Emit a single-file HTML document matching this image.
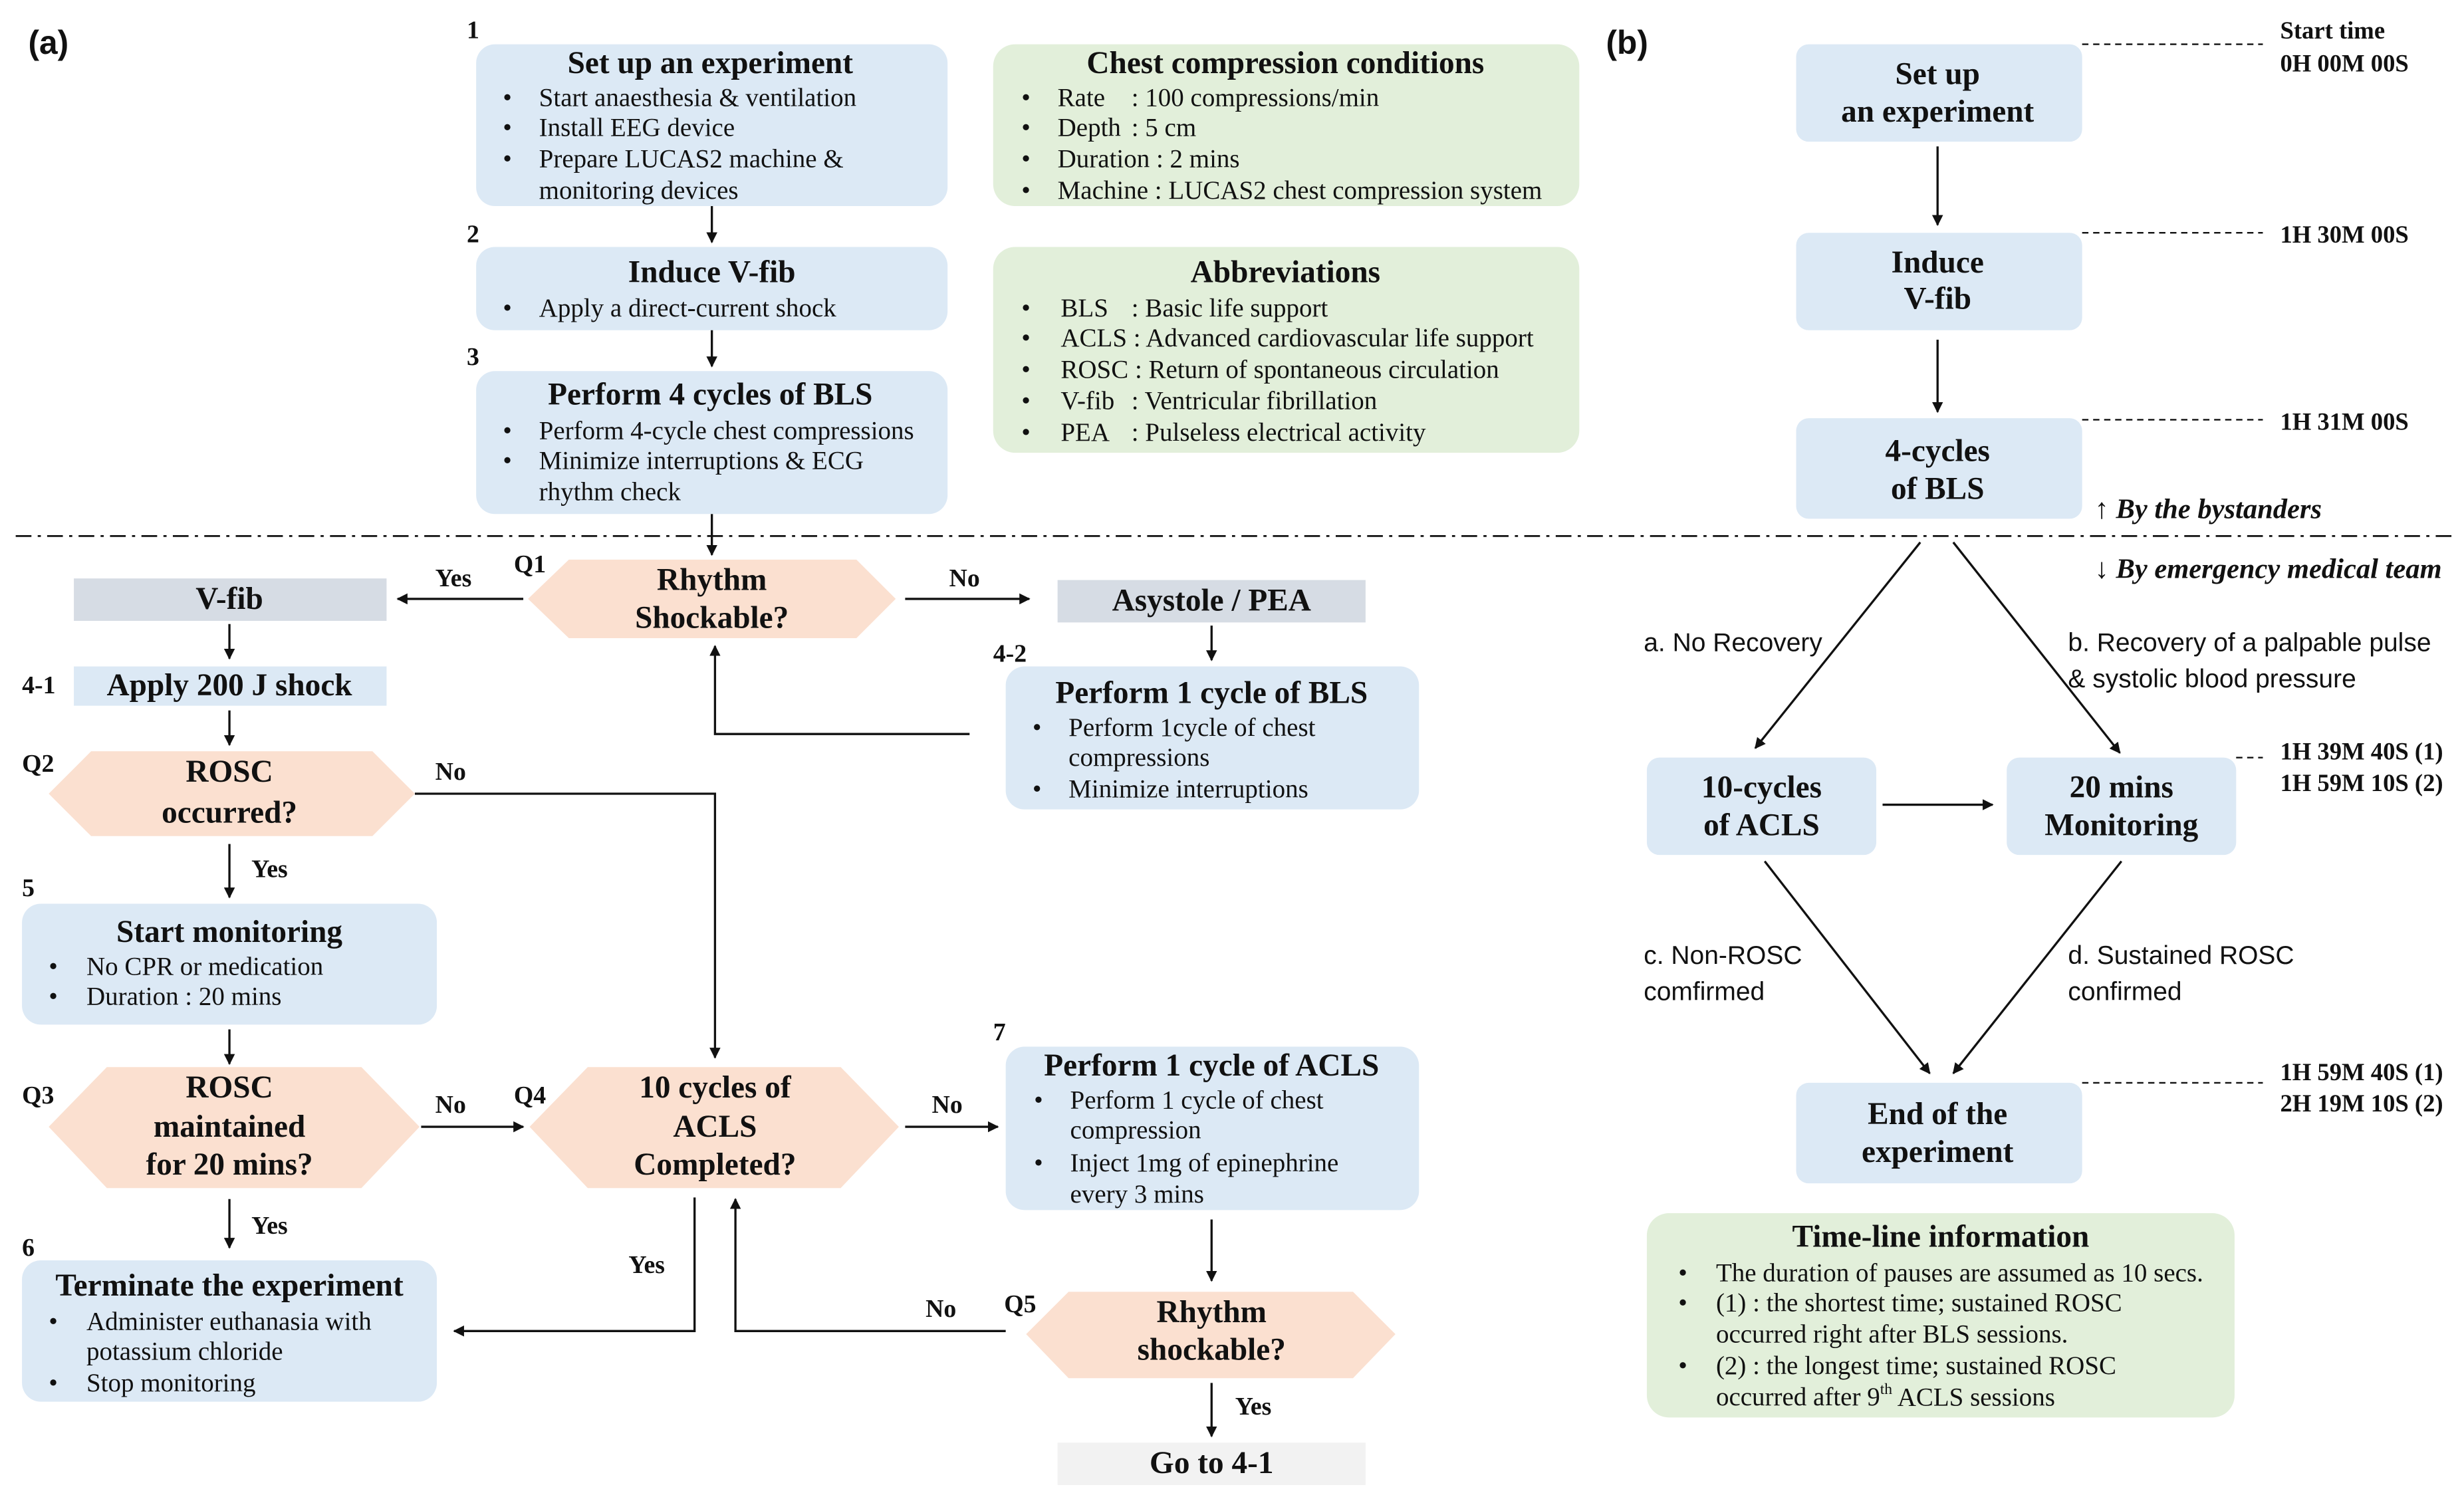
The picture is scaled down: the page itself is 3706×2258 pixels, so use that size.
<!DOCTYPE html>
<html><head><meta charset="utf-8">
<style>
html,body{margin:0;padding:0;background:#fff;}
svg{display:block;}
text{font-family:"Liberation Serif",serif;fill:#111;}
.t{font-weight:bold;font-size:20px;text-anchor:middle;dominant-baseline:central;}
.b{font-size:16.5px;dominant-baseline:central;}
.n{font-size:16px;font-weight:bold;dominant-baseline:central;}
.s{font-family:"Liberation Sans",sans-serif;font-size:16.5px;dominant-baseline:central;}
.tm{font-weight:bold;font-size:15.5px;dominant-baseline:central;}
.blue{fill:#dce9f5;}
.green{fill:#e2efda;}
.peach{fill:#fbe0d0;}
.gray{fill:#d6dce4;}
.ln{stroke:#111;stroke-width:1.4;fill:none;}
</style></head>
<body>
<svg width="3706" height="2258" viewBox="0 0 1568 955" xmlns="http://www.w3.org/2000/svg">
<defs>
<marker id="a" viewBox="0 0 10 10" refX="9" refY="5" markerWidth="7" markerHeight="7" orient="auto-start-reverse" markerUnits="userSpaceOnUse">
<path d="M0,0 L10,5 L0,10 z" fill="#111"/></marker>
</defs>
<rect width="1568" height="955" fill="#fff"/>

<text x="18" y="27" style="font-family:'Liberation Sans',sans-serif;font-size:21px;font-weight:bold;dominant-baseline:central">(a)</text>
<text x="1022" y="27" style="font-family:'Liberation Sans',sans-serif;font-size:21px;font-weight:bold;dominant-baseline:central">(b)</text>

<!-- Box 1 -->
<text class="n" x="297" y="19">1</text>
<rect class="blue" x="303" y="28" width="300" height="103" rx="12"/>
<text class="t" x="452" y="40">Set up an experiment</text>
<g class="b">
<text x="320" y="62">•</text><text x="343" y="62">Start anaesthesia &amp; ventilation</text>
<text x="320" y="81">•</text><text x="343" y="81">Install EEG device</text>
<text x="320" y="101">•</text><text x="343" y="101">Prepare LUCAS2 machine &amp;</text>
<text x="343" y="121">monitoring devices</text>
</g>
<line class="ln" x1="453" y1="131" x2="453" y2="154" marker-end="url(#a)"/>

<!-- Box 2 -->
<text class="n" x="297" y="149">2</text>
<rect class="blue" x="303" y="157" width="300" height="53" rx="12"/>
<text class="t" x="453" y="173">Induce V-fib</text>
<text class="b" x="320" y="196">•</text><text class="b" x="343" y="196">Apply a direct-current shock</text>
<line class="ln" x1="453" y1="210" x2="453" y2="233" marker-end="url(#a)"/>

<!-- Box 3 -->
<text class="n" x="297" y="227">3</text>
<rect class="blue" x="303" y="236" width="300" height="91" rx="12"/>
<text class="t" x="452" y="251">Perform 4 cycles of BLS</text>
<g class="b">
<text x="320" y="274">•</text><text x="343" y="274">Perform 4-cycle chest compressions</text>
<text x="320" y="293">•</text><text x="343" y="293">Minimize interruptions &amp; ECG</text>
<text x="343" y="313">rhythm check</text>
</g>

<!-- Green boxes -->
<rect class="green" x="632" y="28" width="373" height="103" rx="14"/>
<text class="t" x="818" y="40">Chest compression conditions</text>
<g class="b">
<text x="650" y="62">•</text><text x="673" y="62">Rate</text><text x="720" y="62">: 100 compressions/min</text>
<text x="650" y="81">•</text><text x="673" y="81">Depth</text><text x="720" y="81">: 5 cm</text>
<text x="650" y="101">•</text><text x="673" y="101">Duration : 2 mins</text>
<text x="650" y="121">•</text><text x="673" y="121">Machine : LUCAS2 chest compression system</text>
</g>
<rect class="green" x="632" y="157" width="373" height="131" rx="14"/>
<text class="t" x="818" y="173">Abbreviations</text>
<g class="b">
<text x="650" y="196">•</text><text x="675" y="196">BLS</text><text x="720" y="196">: Basic life support</text>
<text x="650" y="215">•</text><text x="675" y="215">ACLS : Advanced cardiovascular life support</text>
<text x="650" y="235">•</text><text x="675" y="235">ROSC : Return of spontaneous circulation</text>
<text x="650" y="255">•</text><text x="675" y="255">V-fib</text><text x="720" y="255">: Ventricular fibrillation</text>
<text x="650" y="275">•</text><text x="675" y="275">PEA</text><text x="720" y="275">: Pulseless electrical activity</text>
</g>

<!-- divider -->
<line x1="10" y1="341" x2="1562" y2="341" stroke="#111" stroke-width="1.2" stroke-dasharray="10,4,2,4"/>

<line class="ln" x1="453" y1="327" x2="453" y2="353" marker-end="url(#a)"/>

<!-- Q1 -->
<text class="n" x="327" y="359">Q1</text>
<polygon class="peach" points="336,381 362,356 545,356 570,381 545,406 362,406"/>
<text class="t" x="453" y="369">Rhythm</text>
<text class="t" x="453" y="393">Shockable?</text>
<line class="ln" x1="333" y1="381" x2="253" y2="381" marker-end="url(#a)"/>
<text class="n" x="277" y="368">Yes</text>
<line class="ln" x1="576" y1="381" x2="655" y2="381" marker-end="url(#a)"/>
<text class="n" x="604" y="368">No</text>

<rect class="gray" x="47" y="368" width="199" height="27"/>
<text class="t" x="146" y="381">V-fib</text>
<rect class="gray" x="673" y="369" width="196" height="27"/>
<text class="t" x="771" y="382">Asystole / PEA</text>

<line class="ln" x1="146" y1="397" x2="146" y2="419" marker-end="url(#a)"/>
<text class="n" x="14" y="436">4-1</text>
<rect class="blue" x="47" y="424" width="199" height="25"/>
<text class="t" x="146" y="436">Apply 200 J shock</text>

<line class="ln" x1="771" y1="398" x2="771" y2="420" marker-end="url(#a)"/>
<text class="n" x="632" y="416">4-2</text>
<rect class="blue" x="640" y="424" width="263" height="91" rx="12"/>
<text class="t" x="771" y="441">Perform 1 cycle of BLS</text>
<g class="b">
<text x="657" y="463">•</text><text x="680" y="463">Perform 1cycle of chest</text>
<text x="680" y="482">compressions</text>
<text x="657" y="502">•</text><text x="680" y="502">Minimize interruptions</text>
</g>
<polyline class="ln" points="617,467 455,467 455,411" marker-end="url(#a)"/>

<!-- Q2 -->
<line class="ln" x1="146" y1="452" x2="146" y2="474" marker-end="url(#a)"/>
<text class="n" x="14" y="486">Q2</text>
<polygon class="peach" points="31,505 58,478 237,478 264,505 237,532 58,532"/>
<text class="t" x="146" y="491">ROSC</text>
<text class="t" x="146" y="517">occurred?</text>
<polyline class="ln" points="264,505 455,505 455,673" marker-end="url(#a)"/>
<text class="n" x="277" y="491">No</text>
<line class="ln" x1="146" y1="537" x2="146" y2="571" marker-end="url(#a)"/>
<text class="n" x="160" y="553">Yes</text>

<!-- Box 5 -->
<text class="n" x="14" y="565">5</text>
<rect class="blue" x="14" y="575" width="264" height="77" rx="12"/>
<text class="t" x="146" y="593">Start monitoring</text>
<g class="b">
<text x="31" y="615">•</text><text x="55" y="615">No CPR or medication</text>
<text x="31" y="634">•</text><text x="55" y="634">Duration : 20 mins</text>
</g>
<line class="ln" x1="146" y1="655" x2="146" y2="677" marker-end="url(#a)"/>

<!-- Q3 -->
<text class="n" x="14" y="697">Q3</text>
<polygon class="peach" points="31,717 68,679 230,679 267,717 230,756 68,756"/>
<text class="t" x="146" y="692">ROSC</text>
<text class="t" x="146" y="717">maintained</text>
<text class="t" x="146" y="741">for 20 mins?</text>
<line class="ln" x1="268" y1="717" x2="333" y2="717" marker-end="url(#a)"/>
<text class="n" x="277" y="703">No</text>
<line class="ln" x1="146" y1="763" x2="146" y2="794" marker-end="url(#a)"/>
<text class="n" x="160" y="780">Yes</text>

<!-- Q4 -->
<text class="n" x="327" y="697">Q4</text>
<polygon class="peach" points="337,717 374,679 535,679 572,717 535,756 374,756"/>
<text class="t" x="455" y="692">10 cycles of</text>
<text class="t" x="455" y="717">ACLS</text>
<text class="t" x="455" y="741">Completed?</text>
<line class="ln" x1="576" y1="717" x2="635" y2="717" marker-end="url(#a)"/>
<text class="n" x="593" y="703">No</text>
<polyline class="ln" points="442,762 442,847 289,847" marker-end="url(#a)"/>
<text class="n" x="400" y="805">Yes</text>

<!-- Box 7 -->
<text class="n" x="632" y="657">7</text>
<rect class="blue" x="640" y="666" width="263" height="104" rx="12"/>
<text class="t" x="771" y="678">Perform 1 cycle of ACLS</text>
<g class="b">
<text x="658" y="700">•</text><text x="681" y="700">Perform 1 cycle of chest</text>
<text x="681" y="719">compression</text>
<text x="658" y="740">•</text><text x="681" y="740">Inject 1mg of epinephrine</text>
<text x="681" y="760">every 3 mins</text>
</g>
<line class="ln" x1="771" y1="776" x2="771" y2="815" marker-end="url(#a)"/>

<!-- Q5 -->
<text class="n" x="639" y="830">Q5</text>
<polygon class="peach" points="653,849 680,822 861,822 888,849 861,877 680,877"/>
<text class="t" x="771" y="835">Rhythm</text>
<text class="t" x="771" y="859">shockable?</text>
<polyline class="ln" points="640,847 468,847 468,763" marker-end="url(#a)"/>
<text class="n" x="589" y="833">No</text>
<line class="ln" x1="771" y1="880" x2="771" y2="914" marker-end="url(#a)"/>
<text class="n" x="786" y="895">Yes</text>
<rect x="673" y="918" width="196" height="27" fill="#f2f2f2"/>
<text class="t" x="771" y="931">Go to 4-1</text>

<!-- Box 6 -->
<text class="n" x="14" y="794">6</text>
<rect class="blue" x="14" y="802" width="264" height="90" rx="12"/>
<text class="t" x="146" y="818">Terminate the experiment</text>
<g class="b">
<text x="31" y="841">•</text><text x="55" y="841">Administer euthanasia with</text>
<text x="55" y="860">potassium chloride</text>
<text x="31" y="880">•</text><text x="55" y="880">Stop monitoring</text>
</g>

<!-- (b) -->
<rect class="blue" x="1143" y="28" width="182" height="62" rx="8"/>
<text class="t" x="1233" y="47">Set up</text>
<text class="t" x="1233" y="71">an experiment</text>
<line class="ln" x1="1233" y1="93" x2="1233" y2="143" marker-end="url(#a)"/>
<rect class="blue" x="1143" y="148" width="182" height="62" rx="8"/>
<text class="t" x="1233" y="167">Induce</text>
<text class="t" x="1233" y="190">V-fib</text>
<line class="ln" x1="1233" y1="216" x2="1233" y2="262" marker-end="url(#a)"/>
<rect class="blue" x="1143" y="266" width="182" height="64" rx="8"/>
<text class="t" x="1233" y="287">4-cycles</text>
<text class="t" x="1233" y="311">of BLS</text>

<g stroke="#111" stroke-width="1" stroke-dasharray="4,3">
<line x1="1325" y1="28" x2="1440" y2="28"/>
<line x1="1325" y1="148" x2="1440" y2="148"/>
<line x1="1325" y1="267" x2="1440" y2="267"/>
<line x1="1423" y1="482" x2="1440" y2="482"/>
<line x1="1325" y1="689" x2="1440" y2="689"/>
</g>
<g class="tm">
<text x="1451" y="19">Start time</text>
<text x="1451" y="40">0H 00M 00S</text>
<text x="1451" y="149">1H 30M 00S</text>
<text x="1451" y="268">1H 31M 00S</text>
<text x="1451" y="478">1H 39M 40S (1)</text>
<text x="1451" y="498">1H 59M 10S (2)</text>
<text x="1451" y="682">1H 59M 40S (1)</text>
<text x="1451" y="702">2H 19M 10S (2)</text>
</g>
<text x="1333" y="324" style="font-weight:bold;font-style:italic;font-size:18px;dominant-baseline:central">↑ By the bystanders</text>
<text x="1333" y="362" style="font-weight:bold;font-style:italic;font-size:18px;dominant-baseline:central">↓ By emergency medical team</text>

<line class="ln" x1="1222" y1="345" x2="1117" y2="476" marker-end="url(#a)"/>
<line class="ln" x1="1243" y1="345" x2="1349" y2="479" marker-end="url(#a)"/>
<text class="s" x="1046" y="409">a. No Recovery</text>
<text class="s" x="1316" y="409">b. Recovery of a palpable pulse</text>
<text class="s" x="1316" y="432">&amp; systolic blood pressure</text>

<rect class="blue" x="1048" y="482" width="146" height="62" rx="8"/>
<text class="t" x="1121" y="501">10-cycles</text>
<text class="t" x="1121" y="525">of ACLS</text>
<rect class="blue" x="1277" y="482" width="146" height="62" rx="8"/>
<text class="t" x="1350" y="501">20 mins</text>
<text class="t" x="1350" y="525">Monitoring</text>
<line class="ln" x1="1198" y1="512" x2="1268" y2="512" marker-end="url(#a)"/>

<line class="ln" x1="1123" y1="548" x2="1228" y2="683" marker-end="url(#a)"/>
<line class="ln" x1="1350" y1="548" x2="1243" y2="683" marker-end="url(#a)"/>
<text class="s" x="1046" y="608">c. Non-ROSC</text>
<text class="s" x="1046" y="631">comfirmed</text>
<text class="s" x="1316" y="608">d. Sustained ROSC</text>
<text class="s" x="1316" y="631">confirmed</text>

<rect class="blue" x="1143" y="689" width="182" height="64" rx="8"/>
<text class="t" x="1233" y="709">End of the</text>
<text class="t" x="1233" y="733">experiment</text>

<rect class="green" x="1048" y="772" width="374" height="130" rx="14"/>
<text class="t" x="1235" y="787">Time-line information</text>
<g class="b">
<text x="1068" y="810">•</text><text x="1092" y="810">The duration of pauses are assumed as 10 secs.</text>
<text x="1068" y="829">•</text><text x="1092" y="829">(1) : the shortest time; sustained ROSC</text>
<text x="1092" y="849">occurred right after BLS sessions.</text>
<text x="1068" y="869">•</text><text x="1092" y="869">(2) : the longest time; sustained ROSC</text>
<text x="1092" y="889">occurred after 9<tspan font-size="10" dy="-5">th</tspan><tspan dy="5"> ACLS sessions</tspan></text>
</g>
</svg>
</body></html>
